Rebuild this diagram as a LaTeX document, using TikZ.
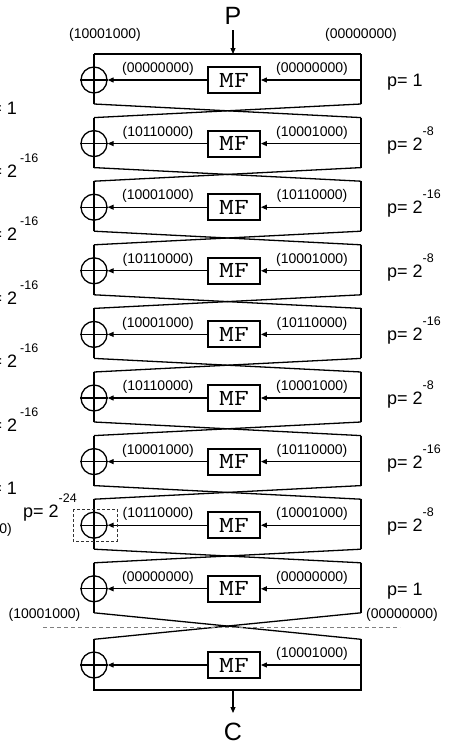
\documentclass[tikz,border=0pt]{standalone}
\usepackage{fontspec}
\setmainfont{Liberation Sans}
\usetikzlibrary{arrows.meta}
\newcommand\pexp[1]{\raisebox{15pt}{\fontsize{12.5}{12.5}\selectfont #1}}
\newcommand\mftext{\scalebox{1.25}[1]{MF}}
\begin{document}
\begin{tikzpicture}[x=1pt,y=-1pt,
  frame/.style={line width=1.3pt},
  arr/.style={line width=1.1pt,-{Triangle[length=6pt,width=5pt]}},
  mfbox/.style={draw,fill=white,line width=1.9pt,minimum width=52pt,minimum height=26pt,inner sep=0pt,font=\ttfamily\fontsize{23}{23}\selectfont},
  xor/.style={draw,circle,line width=1.3pt,minimum size=26pt,inner sep=0pt},
  lbl/.style={font=\fontsize{14}{14}\selectfont,inner sep=0pt},
  plbl/.style={font=\fontsize{18}{18}\selectfont,inner sep=0pt,anchor=base west},
  sep/.style={draw=gray,line width=0.8pt,dash pattern=on 4pt off 3pt},
  sel/.style={draw=black!80,line width=0.8pt,dash pattern=on 3pt off 2pt}]
\useasboundingbox (0,0) rectangle (451,747);

% rounds 1..9
\foreach \i/\lt/\rt/\pl in {1/00000000/00000000/1,
  2/10110000/10001000/2\pexp{-8},
  3/10001000/10110000/2\pexp{-16},
  4/10110000/10001000/2\pexp{-8},
  5/10001000/10110000/2\pexp{-16},
  6/10110000/10001000/2\pexp{-8},
  7/10001000/10110000/2\pexp{-16},
  8/10110000/10001000/2\pexp{-8},
  9/00000000/00000000/1} {
  \pgfmathsetmacro\ty{54+63.6*(\i-1)}
  \coordinate (TL\i) at (94,\ty);
  \coordinate (TR\i) at (361,\ty);
  \coordinate (BL\i) at (94,\ty+50);
  \coordinate (BR\i) at (361,\ty+50);
  \coordinate (R\i) at (361,\ty+26);
  \node[xor] (X\i) at (94,\ty+26) {};
  \node[mfbox] (M\i) at (234,\ty+26) {\mftext};
  \draw[frame] (TL\i) -- (BL\i);
  \draw[frame] (TR\i) -- (BR\i);
  \draw[frame] (X\i.west) -- (X\i.east);
  \draw[arr] (R\i) -- (M\i.east);
  \draw[arr] (M\i.west) -- (X\i.east);
  \node[lbl] (LL\i) at (158,\ty+15) {(\lt)};
  \node[lbl] (RL\i) at (312,\ty+15) {(\rt)};
  \node[plbl] (PL\i) at (387,\ty+32.5) {p= \pl};
}

% last round
\coordinate (TL10) at (94,639.3);
\coordinate (TR10) at (361,639.3);
\coordinate (BL10) at (94,690);
\coordinate (BR10) at (361,690);
\coordinate (R10) at (361,665);
\node[xor] (X10) at (94,665) {};
\node[mfbox] (M10) at (234,665) {\mftext};
\draw[frame] (TL10) -- (BL10) -- (BR10) -- (TR10);
\draw[frame] (X10.west) -- (X10.east);
\draw[arr] (R10) -- (M10.east);
\draw[arr] (M10.west) -- (X10.east);
\node[lbl] (RL10) at (312,654) {(10001000)};

% crossings
\foreach \i [evaluate=\i as \j using int(\i+1)] in {1,...,9} {
  \draw[frame] (BL\i) -- (TR\j);
  \draw[frame] (BR\i) -- (TL\j);
}

% top line
\draw[frame] (TL1) -- (TR1);

% input / output
\coordinate (ptop) at (233,54);
\coordinate (cbot) at (233,690);
\node[font=\fontsize{25}{25}\selectfont,inner sep=0pt,anchor=south] (P) at (233,25) {P};
\node[font=\fontsize{25}{25}\selectfont,inner sep=0pt,anchor=north] (C) at (233,723) {C};
\draw[arr,shorten <=5pt] (P.south) -- (ptop);
\draw[arr,shorten >=10pt] (cbot) -- (C.north);

% top labels
\node[lbl] (tl) at (105,35) {(10001000)};
\node[lbl] (tr) at (361,35) {(00000000)};

% separator
\coordinate (s1) at (43,627);
\coordinate (s2) at (400,627);
\draw[sep] (s1) -- (s2);
\node[lbl] (sl) at (44.5,615) {(10001000)};
\node[lbl] (sr) at (402,615) {(00000000)};

% selected xor
\draw[sel] (73,509) rectangle (117,541);
\node[plbl] (p24) at (23,517) {p= 2\pexp{-24}};

% fragments of neighbouring figure
\node[plbl,anchor=base east] (f1) at (17,114) {p= 1};
\foreach \k in {0,...,4} {
  \node[plbl] (fr\k) at (-18.5,177+63.6*\k) {p= 2\hspace{3pt}\pexp{-16}};
}
\node[plbl,anchor=base east] (f7) at (17,494) {p= 1};
\node[lbl,anchor=base east] (f8) at (12,533) {(10110000)};
\end{tikzpicture}
\end{document}
